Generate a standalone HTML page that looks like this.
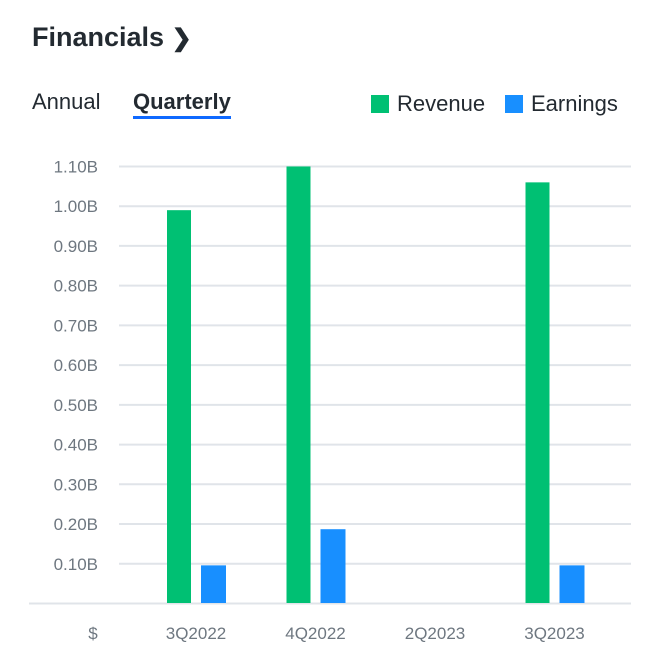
<!DOCTYPE html>
<html><head><meta charset="utf-8"><style>
body{margin:0;width:647px;height:661px;background:#fff;font-family:"Liberation Sans",sans-serif;position:relative;overflow:hidden}
.a{position:absolute;white-space:nowrap}
</style></head><body>
<div class="a" style="left:32px;top:22px;font-size:27px;font-weight:bold;color:#232a31">Financials <span style="font-size:24px">&#x276F;</span></div>
<div class="a" style="left:32px;top:89px;font-size:22px;color:#232a31">Annual</div>
<div class="a" style="left:133px;top:89px;font-size:22px;font-weight:bold;color:#232a31;border-bottom:3px solid #0f69ff;padding-bottom:1px">Quarterly</div>
<div class="a" style="left:371px;top:91px;font-size:22px;color:#232a31"><span style="display:inline-block;width:18px;height:18px;background:#00c073;vertical-align:-2px;margin-right:8px"></span>Revenue</div>
<div class="a" style="left:505px;top:91px;font-size:22px;color:#232a31"><span style="display:inline-block;width:18px;height:18px;background:#188fff;vertical-align:-2px;margin-right:8px"></span>Earnings</div>
<svg id="chart" class="a" style="left:0;top:0" width="647" height="661"></svg>
<script>
const categories=["3Q2022","4Q2022","2Q2023","3Q2023"];
const revenue=[0.99,1.10,0,1.06];
const earnings=[0.096,0.187,0,0.096];
const ticks=[0.1,0.2,0.3,0.4,0.5,0.6,0.7,0.8,0.9,1.0,1.1];
const tickLabels=["0.10B","0.20B","0.30B","0.40B","0.50B","0.60B","0.70B","0.80B","0.90B","1.00B","1.10B"];
const svg=document.getElementById('chart');const NS="http://www.w3.org/2000/svg";
const y=v=>603.5-v*397.3;const x=i=>196+i*119.5;
function mk(t,a){const e=document.createElementNS(NS,t);for(const k in a)e.setAttribute(k,a[k]);svg.appendChild(e);return e;}
ticks.forEach((t,i)=>{
 const l=mk('line',{x1:119,x2:631,y1:y(t),y2:y(t),stroke:'#e0e4e9','stroke-width':2});
 
 
 const tx=mk('text',{x:98,y:y(t)+6,'text-anchor':'end','font-size':17,fill:'#6e7780'});
 tx.textContent=tickLabels[i];
 
 
});
const b=mk('line',{x1:29,x2:631,y1:603.5,y2:603.5,stroke:'#e0e4e9','stroke-width':2});


const d=mk('text',{x:93,y:639,'text-anchor':'middle','font-size':17,fill:'#6e7780'});d.textContent='$';


categories.forEach((c,i)=>{
 if(revenue[i]>0){const r=mk('rect',{x:x(i)-29,y:y(revenue[i]),width:24,height:603-y(revenue[i]),fill:'#00c073'});
 
 }
 if(earnings[i]>0){const r=mk('rect',{x:x(i)+5,y:y(earnings[i]),width:25,height:603-y(earnings[i]),fill:'#188fff'});
 
 }
 const t=mk('text',{x:x(i),y:639,'text-anchor':'middle','font-size':17,fill:'#6e7780'});t.textContent=c;
 
 
});
</script>
</body></html>
